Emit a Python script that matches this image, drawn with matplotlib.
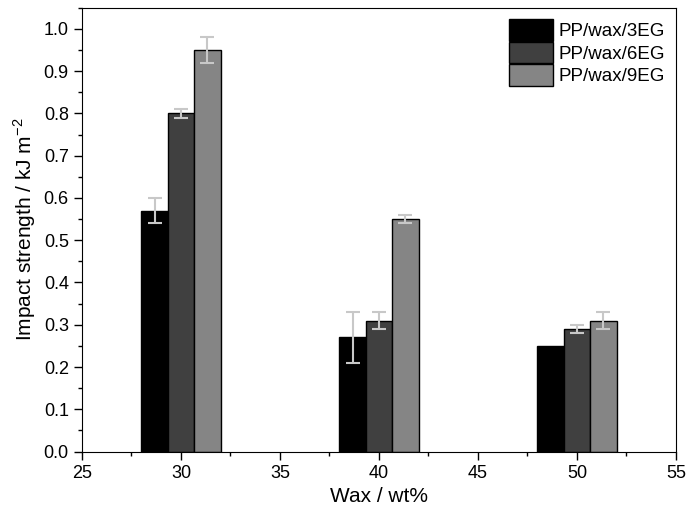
import matplotlib.pyplot as plt
from matplotlib.ticker import MultipleLocator
import numpy as np

plt.rcParams['font.family'] = ['Liberation Sans', 'DejaVu Sans']

# содержание воска, мас.%
wax = np.array([30, 40, 50])
series = ["PP/wax/3EG", "PP/wax/6EG", "PP/wax/9EG"]
impact_3eg = [0.57, 0.27, 0.25]
impact_6eg = [0.80, 0.31, 0.29]
impact_9eg = [0.95, 0.55, 0.31]
err_3eg = [0.03, 0.06, 0.0]
err_6eg = [0.01, 0.02, 0.01]
err_9eg = [0.03, 0.01, 0.02]

values = [impact_3eg, impact_6eg, impact_9eg]
errors = [err_3eg, err_6eg, err_9eg]
colors = ["#000000", "#404040", "#858585"]

fig, ax = plt.subplots(figsize=(6.89, 5.19), dpi=100)
fig.subplots_adjust(left=0.119, right=0.981, top=0.985, bottom=0.13)

width = 4 / 3
for i, (v, e, c, lab) in enumerate(zip(values, errors, colors, series)):
    pos = wax + (i - 1) * width
    ax.bar(pos, v, width=width, color=c, edgecolor="black", linewidth=1,
           label=lab, zorder=2)
    # усы погрешностей (только там, где они есть)
    v = np.array(v)
    e = np.array(e)
    m = e > 0
    ax.errorbar(pos[m], v[m], yerr=e[m], fmt="none", ecolor="#c8c8c8",
                elinewidth=1.5, capsize=5, capthick=1.5, zorder=3)

ax.set_xlim(25, 55)
ax.set_ylim(0, 1.05)
ax.xaxis.set_major_locator(MultipleLocator(5))
ax.xaxis.set_minor_locator(MultipleLocator(2.5))
ax.yaxis.set_major_locator(MultipleLocator(0.1))
ax.yaxis.set_minor_locator(MultipleLocator(0.05))
ax.yaxis.set_major_formatter(plt.FormatStrFormatter("%.1f"))

ax.tick_params(which="major", direction="out", length=6, width=1, labelsize=13)
ax.tick_params(which="minor", direction="out", length=3, width=1)

ax.set_xlabel("Wax / wt%", fontsize=15)
ax.set_ylabel("Impact strength / kJ m$^{\\mathregular{-2}}$", fontsize=15)

ax.legend(loc="upper right", frameon=False, fontsize=13.5, handlelength=2.3,
          handleheight=1.4, handletextpad=0.3, labelspacing=0.05,
          borderaxespad=0.2)

fig.savefig("out.png", dpi=100)
